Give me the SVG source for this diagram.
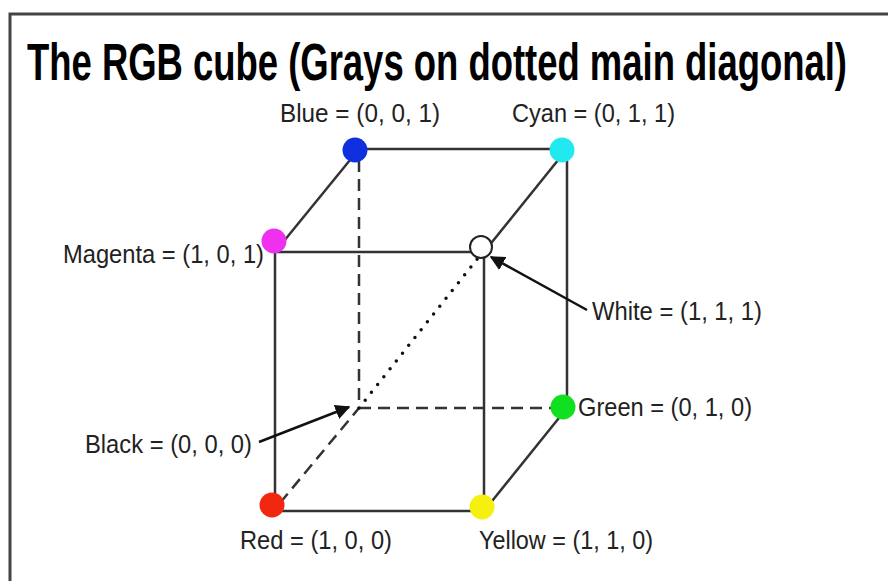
<svg xmlns="http://www.w3.org/2000/svg" width="888" height="581" viewBox="0 0 888 581">
<style>
.lbl{font-family:"Liberation Sans",Arial,sans-serif;font-size:25px;fill:#222}
.title{font-family:"Liberation Sans",Arial,sans-serif;font-size:36.5px;font-weight:bold;fill:#000}
.edge{stroke:#333;stroke-width:2.5;fill:none}
.dash{stroke:#333;stroke-width:2.5;fill:none;stroke-dasharray:12 7}
.dot{stroke:#111;stroke-width:3.5;fill:none;stroke-dasharray:0 10;stroke-linecap:round}
.arrow{stroke:#111;stroke-width:2.5;fill:none;marker-end:url(#ah)}
</style>
<defs>
<marker id="ah" viewBox="0 0 10 10" refX="9" refY="5" markerWidth="6" markerHeight="6" orient="auto" markerUnits="strokeWidth">
<path d="M0,0 L10,5 L0,10 z" fill="#111"/>
</marker>
</defs>
<rect width="888" height="581" fill="#fff"/>
<path d="M10,581 V14 H888" fill="none" stroke="#444" stroke-width="3"/>
<text class="title" transform="translate(27,80) scale(1,1.42)" x="0" y="0" textLength="820" lengthAdjust="spacingAndGlyphs">The RGB cube (Grays on dotted main diagonal)</text>
<g id="connectors">
<line class="edge" x1="275" y1="252" x2="484" y2="252"/>
<line class="edge" x1="275" y1="252" x2="275" y2="511"/>
<line class="edge" x1="275" y1="511" x2="484" y2="511"/>
<line class="edge" x1="484" y1="252" x2="484" y2="511"/>
<line class="edge" x1="359" y1="149" x2="567" y2="149"/>
<line class="edge" x1="567" y1="149" x2="567" y2="408"/>
<line class="edge" x1="275" y1="252" x2="359" y2="149"/>
<line class="edge" x1="484" y1="252" x2="567" y2="149"/>
<line class="edge" x1="484" y1="511" x2="567" y2="408"/>
<line class="dash" x1="359" y1="160" x2="359" y2="408"/>
<line class="dash" x1="359" y1="408" x2="555" y2="408"/>
<line class="dash" x1="280" y1="503" x2="359" y2="408"/>
<line class="dot" x1="359" y1="408" x2="478" y2="258"/>
<line class="arrow" x1="587" y1="310" x2="491" y2="257"/>
<line class="arrow" x1="259" y1="442" x2="349" y2="407"/>
</g>
<g id="blue"><circle cx="355" cy="150" r="12.5" fill="#1030e0"/><text class="lbl" x="280" y="122" textLength="160" lengthAdjust="spacingAndGlyphs">Blue = (0, 0, 1)</text></g>
<g id="cyan"><circle cx="562" cy="150" r="12.5" fill="#22e8f0"/><text class="lbl" x="512" y="122" textLength="163" lengthAdjust="spacingAndGlyphs">Cyan = (0, 1, 1)</text></g>
<g id="magenta"><circle cx="274" cy="241" r="12.5" fill="#f030f0"/><text class="lbl" x="63" y="263" textLength="201" lengthAdjust="spacingAndGlyphs">Magenta = (1, 0, 1)</text></g>
<g id="white"><circle cx="481" cy="247" r="11" fill="#fff" stroke="#222" stroke-width="2"/><text class="lbl" x="592" y="320" textLength="170" lengthAdjust="spacingAndGlyphs">White = (1, 1, 1)</text></g>
<g id="green"><circle cx="563" cy="407" r="12.5" fill="#10e020"/><text class="lbl" x="578" y="416" textLength="174" lengthAdjust="spacingAndGlyphs">Green = (0, 1, 0)</text></g>
<g id="black"><text class="lbl" x="85" y="453" textLength="167" lengthAdjust="spacingAndGlyphs">Black = (0, 0, 0)</text></g>
<g id="red"><circle cx="272" cy="505" r="12.5" fill="#f02810"/><text class="lbl" x="240" y="549" textLength="152" lengthAdjust="spacingAndGlyphs">Red = (1, 0, 0)</text></g>
<g id="yellow"><circle cx="482" cy="507" r="12.5" fill="#f5f010"/><text class="lbl" x="479" y="549" textLength="174" lengthAdjust="spacingAndGlyphs">Yellow = (1, 1, 0)</text></g>
</svg>
